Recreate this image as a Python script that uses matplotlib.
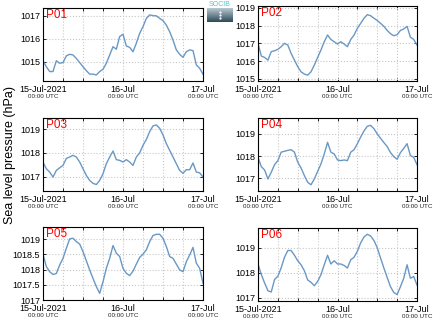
import numpy as np
import pandas as pd
import matplotlib
matplotlib.use("Agg")
import matplotlib.pyplot as plt
import matplotlib.dates as mdates
import matplotlib.transforms as mtransforms

plt.rcParams['font.family'] = ['Liberation Sans', 'DejaVu Sans']

# hourly sea level pressure (hPa), 15-Jul-2021 00:00 -> 17-Jul-2021 00:00 UTC
times = pd.date_range("2021-07-15 00:00", periods=49, freq="h")

p01 = [1015.04, 1014.78, 1014.57, 1014.57, 1015.04, 1014.93, 1014.96, 1015.25, 1015.32, 1015.29,
       1015.14, 1014.96, 1014.78, 1014.61, 1014.46, 1014.46, 1014.42, 1014.57, 1014.67, 1014.93,
       1015.29, 1015.65, 1015.54, 1016.09, 1016.19, 1015.68, 1015.62, 1015.43, 1015.80, 1016.23,
       1016.52, 1016.88, 1017.03, 1017.00, 1016.99, 1016.88, 1016.78, 1016.59, 1016.30, 1015.94,
       1015.51, 1015.32, 1015.19, 1015.43, 1015.51, 1015.48, 1014.86, 1014.71, 1014.46]
p02 = [1017.00, 1016.28, 1016.20, 1016.05, 1016.53, 1016.58, 1016.66, 1016.81, 1017.00, 1016.90,
       1016.43, 1016.05, 1015.68, 1015.39, 1015.26, 1015.20, 1015.39, 1015.77, 1016.20, 1016.62,
       1017.09, 1017.47, 1017.22, 1017.09, 1016.96, 1017.09, 1016.96, 1016.81, 1017.22, 1017.47,
       1017.85, 1018.13, 1018.42, 1018.62, 1018.56, 1018.42, 1018.29, 1018.13, 1017.96, 1017.73,
       1017.54, 1017.43, 1017.49, 1017.73, 1017.81, 1017.96, 1017.35, 1017.22, 1016.90]
p03 = [1017.61, 1017.34, 1017.20, 1016.99, 1017.27, 1017.38, 1017.48, 1017.77, 1017.83, 1017.90,
       1017.83, 1017.62, 1017.34, 1017.06, 1016.85, 1016.73, 1016.68, 1016.85, 1017.13, 1017.55,
       1017.83, 1018.08, 1017.72, 1017.69, 1017.62, 1017.72, 1017.62, 1017.48, 1017.83, 1018.00,
       1018.32, 1018.56, 1018.89, 1019.13, 1019.17, 1019.03, 1018.75, 1018.39, 1018.11, 1017.83,
       1017.55, 1017.27, 1017.15, 1017.30, 1017.30, 1017.58, 1017.20, 1017.17, 1016.99]
p04 = [1017.95, 1017.53, 1017.38, 1016.98, 1017.28, 1017.62, 1017.80, 1018.18, 1018.22, 1018.26,
       1018.29, 1018.18, 1017.73, 1017.47, 1017.13, 1016.83, 1016.72, 1016.98, 1017.32, 1017.65,
       1018.10, 1018.62, 1018.18, 1018.10, 1017.83, 1017.80, 1017.83, 1017.80, 1018.18, 1018.29,
       1018.56, 1018.86, 1019.13, 1019.34, 1019.38, 1019.23, 1019.00, 1018.80, 1018.61, 1018.43,
       1018.16, 1017.98, 1017.86, 1018.16, 1018.35, 1018.56, 1018.03, 1017.95, 1017.62]
p05 = [1018.51, 1018.10, 1017.93, 1017.84, 1017.87, 1018.15, 1018.37, 1018.70, 1019.01, 1019.03,
       1018.92, 1018.84, 1018.59, 1018.29, 1017.99, 1017.71, 1017.44, 1017.22, 1017.60, 1018.04,
       1018.37, 1018.79, 1018.54, 1018.43, 1018.04, 1017.88, 1017.80, 1017.95, 1018.18, 1018.40,
       1018.51, 1018.65, 1018.92, 1019.12, 1019.16, 1019.16, 1019.03, 1018.76, 1018.43, 1018.37,
       1018.18, 1017.99, 1017.93, 1018.26, 1018.48, 1018.73, 1018.21, 1018.04, 1017.55]
p06 = [1018.34, 1017.92, 1017.58, 1017.27, 1017.22, 1017.72, 1017.85, 1018.19, 1018.61, 1018.88,
       1018.88, 1018.69, 1018.47, 1018.31, 1018.07, 1017.70, 1017.61, 1017.47, 1017.64, 1017.91,
       1018.31, 1018.69, 1018.34, 1018.47, 1018.34, 1018.34, 1018.28, 1018.18, 1018.51, 1018.61,
       1018.85, 1019.19, 1019.42, 1019.53, 1019.46, 1019.28, 1018.99, 1018.58, 1018.18, 1017.80,
       1017.43, 1017.20, 1017.12, 1017.43, 1017.77, 1018.31, 1017.77, 1017.84, 1017.50]

names = ["P01", "P02", "P03", "P04", "P05", "P06"]
series = [p01, p02, p03, p04, p05, p06]
ylims = [(1014.16, 1017.33), (1014.87, 1019.11), (1016.41, 1019.46),
         (1016.44, 1019.71), (1017.0, 1019.40), (1016.86, 1019.78)]
yticks = [[1015, 1016, 1017], [1015, 1016, 1017, 1018, 1019], [1017, 1018, 1019],
          [1017, 1018, 1019], [1017, 1017.5, 1018, 1018.5, 1019], [1017, 1018, 1019]]
ytick_labels = [["1015", "1016", "1017"], ["1015", "1016", "1017", "1018", "1019"],
                ["1017", "1018", "1019"], ["1017", "1018", "1019"],
                ["1017", "1017.5", "1018", "1018.5", "1019"], ["1017", "1018", "1019"]]
xtick_labels = ["15-Jul-2021", "16-Jul", "17-Jul"]

# axes boxes in pixels (left, top, right, bottom)
W, H = 435, 327
boxes = [(43, 8, 203, 81), (258, 6, 417, 81),
         (43, 118, 203, 191), (258, 118, 417, 191),
         (43, 227, 203, 300), (258, 228, 417, 301)]

fig = plt.figure(figsize=(W / 100, H / 100), dpi=100)

major_ticks = [times[0], times[24], times[48]]
for name, vals, yl, yt, ytl, (l, t, r, b) in zip(names, series, ylims, yticks, ytick_labels, boxes):
    ax = fig.add_axes([l / W, (H - b) / H, (r - l) / W, (b - t) / H])
    ax.plot(times, vals, color="#6a98c4", lw=1.0)
    ax.set_xlim(times[0], times[48])
    ax.set_ylim(*yl)
    ax.set_yticks(yt)
    ax.set_yticklabels(ytl, fontsize=6.5)
    ax.set_xticks(major_ticks)
    ax.set_xticklabels(xtick_labels, fontsize=6.5)
    ax.xaxis.set_minor_locator(mdates.HourLocator(byhour=[6, 12, 18]))
    ax.tick_params(which="both", direction="in", top=True, right=True, length=2.5, width=0.6)
    ax.tick_params(axis="x", pad=3)
    ax.tick_params(axis="y", pad=2)
    ax.grid(True, which="both", axis="x", color="#c8c8c8", ls=":", lw=0.8)
    ax.grid(True, which="major", axis="y", color="#c8c8c8", ls=":", lw=0.8)
    for s in ax.spines.values():
        s.set_linewidth(0.8)
    ax.text(0.02, 0.98, name, transform=ax.transAxes, color="red", fontsize=8.5, va="top", ha="left")
    trans = mtransforms.blended_transform_factory(ax.transData, ax.transAxes)
    for d in major_ticks:
        ax.text(d, -0.18, "00:00 UTC", transform=trans, fontsize=4.5, ha="center", va="top", color="#222222")

fig.text(0.022, 0.525, "Sea level pressure (hPa)", rotation=90, fontsize=9, ha="center", va="center")

# small logo
lax = fig.add_axes([207 / W, (H - 22) / H, 26 / W, 14 / H])
grad = np.linspace(0, 1, 50).reshape(-1, 1)
lax.imshow(grad, aspect="auto", cmap=matplotlib.colors.LinearSegmentedColormap.from_list(
    "lg", ["#b8c8d0", "#2e4a5a"]))
lax.set_axis_off()
lax.plot([0, 0, 0], [15, 25, 35], ls="none", marker=".", ms=1.2, color="white")
fig.text(220 / W, (H - 4.5) / H, "SOCIB", fontsize=5, color="#4fc3d6", ha="center", va="center")

fig.savefig("out.png", dpi=100)
